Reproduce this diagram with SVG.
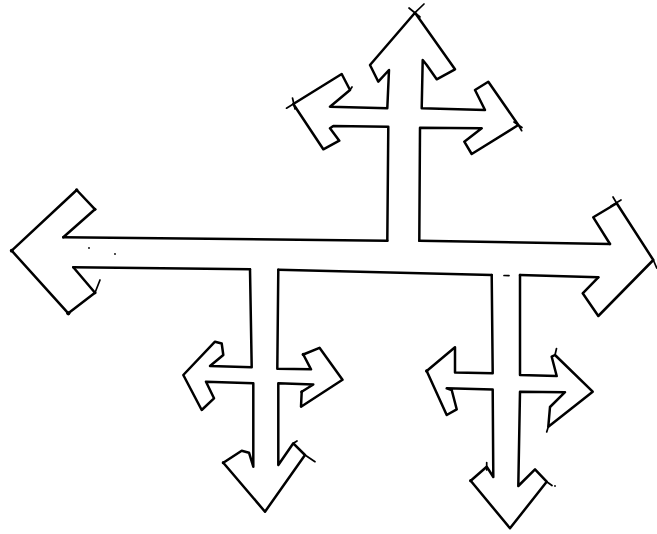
<svg xmlns="http://www.w3.org/2000/svg" width="657" height="534" viewBox="0 0 657 534">
<style>
.ln{fill:none;stroke:#000;stroke-width:2.5;stroke-linejoin:round;stroke-linecap:round}
.tk{fill:none;stroke:#000;stroke-width:1.7;stroke-linecap:round}
.dt{fill:#000}
</style>
<rect width="657" height="534" fill="#fff"/>
<g id="main-bar">
<path class="ln" d="M63.3,237.3 L387.3,240.7"/>
<path class="ln" d="M419.3,240.7 L610,244"/>
<path class="ln" d="M73.3,267.3 L250,269.3"/>
<path class="ln" d="M278.3,269.8 L491.7,275"/>
<path class="ln" d="M520,275 L598.3,277.3"/>
</g>
<g id="left-arrow">
<path class="ln" d="M63.3,237.3 L95,209.3 L76.7,190 L11.7,250.7 L68.3,313.3 L95,292.7 L73.3,267.3"/>
</g>
<g id="top-arrow">
<path class="ln" d="M387.3,240.7 L388.3,126.7 L333.3,126 L330,128.3 L339.3,140.7 L323.3,149.3 L293.3,104 L341.7,74 L350,90 L330,106.7 L387.3,108.3 L389,70 L378.3,81.7 L370,65 L415,12.7 L455,69.3 L436.7,79.3 L426.7,65 L422.7,60 L421.7,108.3 L485,110 L475,90 L488.3,81.7 L518.3,125 L471.7,154 L464.3,141.7 L481.7,128.3 L420,127.7 L419.3,240.7"/>
</g>
<g id="right-arrow">
<path class="ln" d="M610,244 L593.3,217.3 L616.7,203.3 L653.3,260 L598.3,316 L582.7,293.3 L598.3,277.3"/>
</g>
<g id="bottom-left-arrow">
<path class="ln" d="M250,269.3 L251.7,367.3 L210,366 L223.3,355 L221.7,343.5 L215,341.7 L183.3,375 L201.7,410 L214,398.3 L206,381.7 L253.3,383.3 L253.3,466.7 L249,452.7 L241.7,450.7 L223.3,462.7 L265,511.7 L305,455 L293.3,443.3 L278.3,465 L278.3,383.3 L313.3,384.5 L301.7,391.7 L301,406.7 L342.5,379.8 L319.5,347.8 L303.3,354.5 L311,369.3 L277.3,368.7 L278.3,269.8"/>
</g>
<g id="bottom-right-arrow">
<path class="ln" d="M491.7,275 L492.7,373.3 L455,372.5 L455,347.3 L426.7,371 L446.7,415 L456.7,409.3 L451.7,390 L446.7,388.3 L492.7,389.5 L493.3,477 L486.7,466.7 L470.7,480.7 L510,528.3 L546.7,481.7 L535,469.3 L518.3,486 L520,391.7 L565,392.2 L550,407 L548.3,426.7 L592.7,391.7 L555,355 L551.7,356.7 L556.7,376 L520,375 L520,275"/>
</g>
<g id="marks">
<path class="tk" d="M415,12.7 L424,4 M409,8 L420,17"/>
<path class="tk" d="M293.3,104 L286.5,108.2 M292.5,98 L295,109"/>
<path class="tk" d="M518.3,125 L521.7,130.7 M514,122 L522,127.5"/>
<path class="tk" d="M616.7,203.3 L613,197 M611,206 L621,200"/>
<path class="tk" d="M653.3,260 L656.7,268"/>
<path class="tk" d="M95,292.7 L100,280"/>
<path class="tk" d="M305,455 L315,461.7 M293.3,443.3 L297,441"/>
<path class="tk" d="M546.7,481.7 L552,485.5 M486.7,462.5 L486.7,470 M548.3,426.7 L546.7,432 M555,355 L556.5,348.5"/>
<path class="tk" d="M350,90 L352,87"/>
<circle class="dt" cx="76.7" cy="190" r="1.7"/>
<circle class="dt" cx="95" cy="209.3" r="1.5"/>
<circle class="dt" cx="11.7" cy="250.7" r="1.9"/>
<circle class="dt" cx="68.3" cy="313.3" r="2.1"/>
<circle class="dt" cx="95" cy="292.7" r="1.5"/>
<circle class="dt" cx="223.3" cy="462.7" r="1.6"/>
<circle class="dt" cx="303.3" cy="354.5" r="1.7"/>
<circle class="dt" cx="301.7" cy="391.7" r="1.5"/>
<circle class="dt" cx="426.7" cy="371" r="1.7"/>
<circle class="dt" cx="470.7" cy="480.7" r="1.6"/>
<circle class="dt" cx="89" cy="248" r="0.9"/>
<circle class="dt" cx="115" cy="254" r="0.9"/>
<circle class="dt" cx="555" cy="486" r="0.9"/>
<path class="tk" d="M504,275.5 L509,275.6"/>
</g>
</svg>
